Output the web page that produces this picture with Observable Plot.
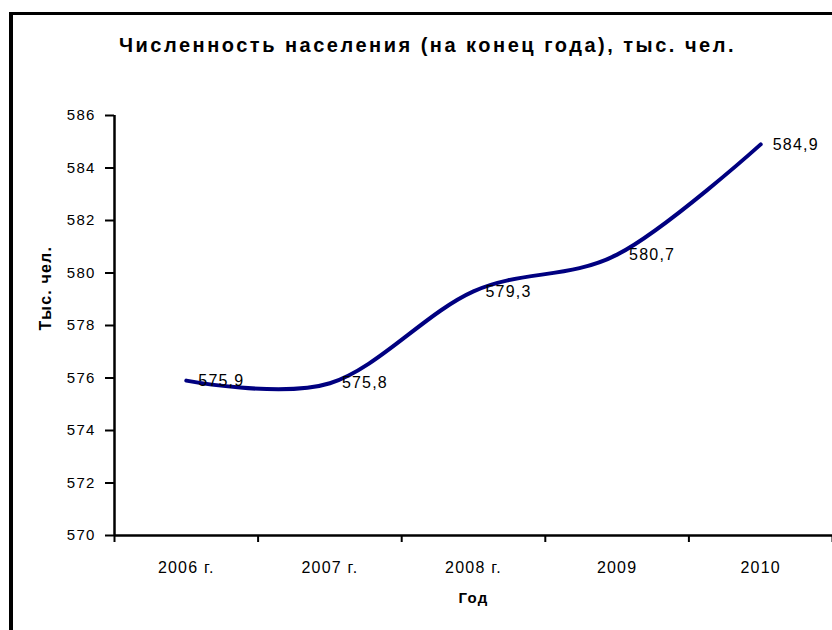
<!DOCTYPE html>
<html><head><meta charset="utf-8">
<script src="https://cdn.jsdelivr.net/npm/d3@7"></script>
<script src="https://cdn.jsdelivr.net/npm/@observablehq/plot@0.6"></script>
<style>
body{margin:0;background:#fff;}
#wrap{position:relative;width:832px;height:630px;overflow:hidden;font-family:"Liberation Sans",Arial,sans-serif;background:#fff;}
#chart{position:absolute;left:0;top:0;}
#frame{position:absolute;left:9px;top:12px;right:-10px;bottom:-10px;border-left:4px solid #000;border-top:3px solid #000;pointer-events:none;}
#title{position:absolute;left:119px;top:35px;font-weight:bold;font-size:20px;line-height:20px;white-space:nowrap;color:#000;}
#chart svg text{letter-spacing:1.2px;}
#chart svg text.lbl{letter-spacing:1.6px;}
#chart svg text.ylab{letter-spacing:2px;}
</style>
</head>
<body>
<div id="wrap">
  <div id="chart"></div>
  <div id="frame"></div>
  <div id="title">Численность населения (на конец года), тыс. чел.</div>
</div>
<script>
const years = ["2006 г.", "2007 г.", "2008 г.", "2009", "2010"];
const population = [575.9, 575.8, 579.3, 580.7, 584.9];
const yTicks = [570, 572, 574, 576, 578, 580, 582, 584, 586];
const yLabel = "Тыс. чел.";
const xLabel = "Год";

const data = years.map((y, i) => ({year: y, pos: i + 0.5, value: population[i]}));
const bounds = d3.range(0, years.length + 1);
const centers = years.map((_, i) => i + 0.5);
const fmt = v => v.toFixed(1).replace(".", ",");

const chart = Plot.plot({
  width: 832,
  height: 630,
  marginLeft: 114,
  marginRight: 0,
  marginTop: 115,
  marginBottom: 95,
  style: {fontFamily: '"Liberation Sans", Arial, sans-serif', fontSize: "15px", color: "#000", background: "transparent"},
  x: {type: "linear", domain: [0, years.length]},
  y: {domain: [570, 586]},
  marks: [
    Plot.axisY({ticks: yTicks, tickSize: 9, tickPadding: 10, fontSize: 15, label: null, strokeWidth: 2}),
    Plot.axisX({ticks: bounds, tickSize: 7, tickFormat: () => "", label: null, strokeWidth: 2}),
    Plot.axisX({ticks: centers, tickSize: 0, tickPadding: 26, fontSize: 16, tickFormat: d => years[Math.round(d - 0.5)], label: null}),
    Plot.ruleX([0], {stroke: "#000", strokeWidth: 2.5}),
    Plot.ruleY([570], {stroke: "#000", strokeWidth: 2.5}),
    Plot.line(data, {x: "pos", y: "value", curve: "cardinal", stroke: "#000080", strokeWidth: 4}),
    Plot.text(data, {x: "pos", y: "value", text: d => fmt(d.value), dx: 12, textAnchor: "start", fontSize: 16, fill: "#000", className: "lbl"}),
    Plot.text([yLabel], {frameAnchor: "left", rotate: -90, dx: -69, dy: 5, fontSize: 16, fontWeight: "bold", text: d => d, className: "ylab"}),
    Plot.text([xLabel], {frameAnchor: "bottom", dy: 67, fontSize: 15, fontWeight: "bold", text: d => d})
  ]
});
document.getElementById("chart").appendChild(chart);
chart.querySelectorAll("g[aria-label='text'] text").forEach(el => {});

// stretch title to its drawn width
const t = document.getElementById("title");
const target = 617;
const w = t.getBoundingClientRect().width;
const n = t.textContent.length;
t.style.letterSpacing = ((target - w) / n) + "px";
</script>
</body></html>
